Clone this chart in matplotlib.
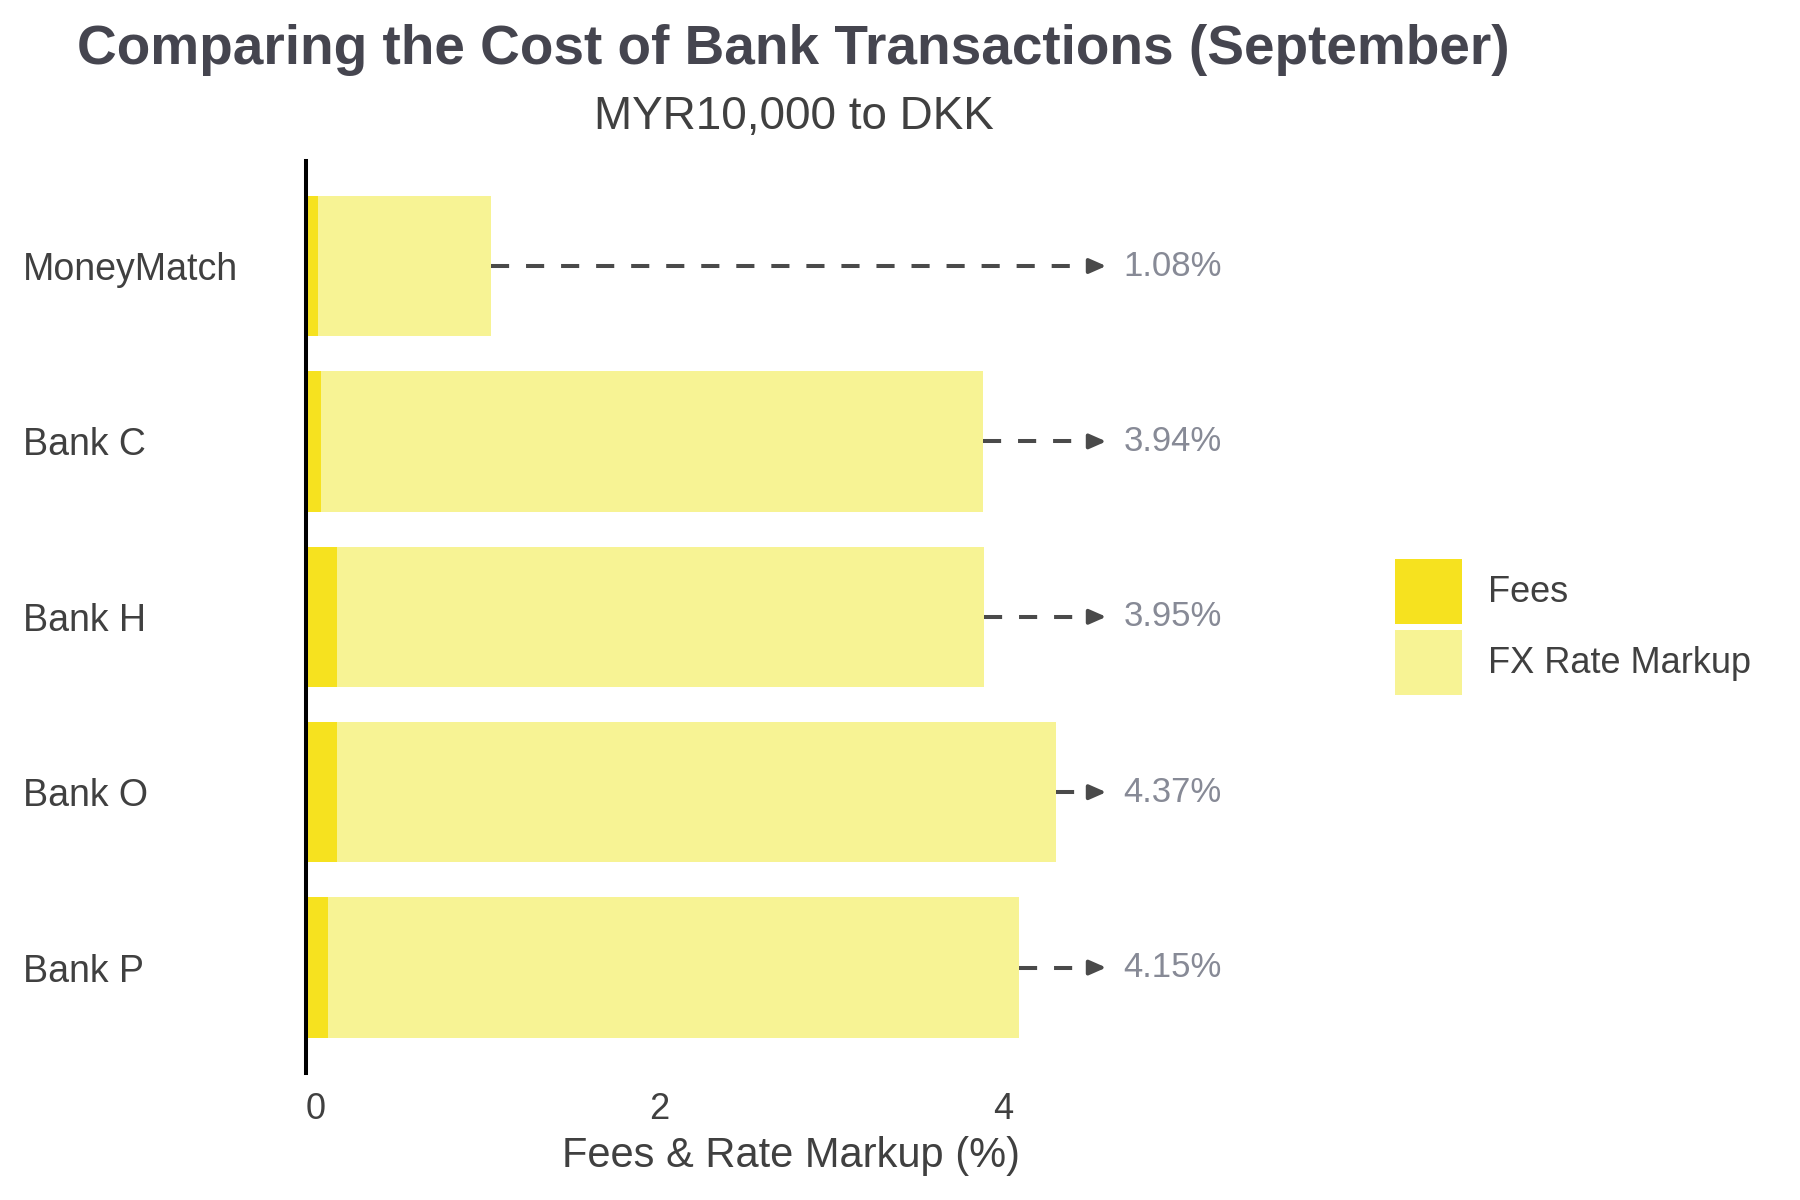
import matplotlib
matplotlib.use("Agg")
import matplotlib.pyplot as plt
import matplotlib.transforms as mtransforms
from matplotlib.patches import Patch

plt.rcParams['font.family'] = ['Liberation Sans', 'DejaVu Sans']

# data
providers = ["MoneyMatch", "Bank C", "Bank H", "Bank O", "Bank P"]
fees = [0.07, 0.09, 0.18, 0.18, 0.13]
totals = [1.08, 3.94, 3.95, 4.37, 4.15]
markups = [t - f for t, f in zip(totals, fees)]
total_labels = ["1.08%", "3.94%", "3.95%", "4.37%", "4.15%"]
x_ticks = [0, 2, 4]

FEE_COLOR = "#F6E21F"
MARKUP_COLOR = "#F7F394"
TEXT_COLOR = "#404040"
TITLE_COLOR = "#45454f"
NOTE_COLOR = "#878a96"
ARROW_COLOR = "#4a4a4a"
arrow_end = 4.66
label_x = 4.76

fig = plt.figure(figsize=(18, 12), dpi=100)
ax = fig.add_axes([0.170, 0.106, 0.539, 0.760])

ypos = list(range(len(providers)))
ax.barh(ypos, fees, height=0.8, color=FEE_COLOR, label="Fees", zorder=2)
ax.barh(ypos, markups, left=fees, height=0.8, color=MARKUP_COLOR,
        label="FX Rate Markup", zorder=2)

for y, tot, lab in zip(ypos, totals, total_labels):
    ax.plot([tot, arrow_end - 0.03], [y, y], color=ARROW_COLOR, lw=2.9,
            linestyle=(0, (4.5, 4.2)), solid_capstyle="butt",
            dash_capstyle="butt", zorder=3, clip_on=False)
    ax.annotate("", xy=(arrow_end, y), xytext=(arrow_end - 0.09, y),
                arrowprops=dict(arrowstyle="-|>,head_length=0.5,head_width=0.22",
                                color=ARROW_COLOR, lw=2.7, mutation_scale=20,
                                shrinkA=0, shrinkB=0),
                annotation_clip=False, zorder=3)
    ax.text(label_x, y, lab, ha="left", va="center", fontsize=25,
            color=NOTE_COLOR, clip_on=False)

ax.set_xlim(0, 5.65)
ax.set_ylim(4.6, -0.6)

ax.set_yticks(ypos)
ax.set_yticklabels(providers, fontsize=27, color=TEXT_COLOR)
ax.tick_params(axis="y", length=0, pad=204)
for t in ax.get_yticklabels():
    t.set_ha("left")

ax.set_xticks(x_ticks)
ax.set_xticklabels([str(v) for v in x_ticks], fontsize=26, color=TEXT_COLOR)
ax.tick_params(axis="x", length=0, pad=14)
shift = mtransforms.ScaledTranslation(0.10, 0, fig.dpi_scale_trans)
for t in ax.get_xticklabels():
    t.set_transform(t.get_transform() + shift)

ax.set_xlabel("Fees & Rate Markup (%)", fontsize=30, color=TEXT_COLOR, labelpad=6)

for s in ["top", "right", "bottom"]:
    ax.spines[s].set_visible(False)
ax.spines["left"].set_linewidth(2.9)
ax.spines["left"].set_color("black")
ax.grid(False)

fig.text(0.441, 1 - 50 / 1200, "Comparing the Cost of Bank Transactions (September)",
         ha="center", va="center", fontsize=39.6, fontweight="bold", color=TITLE_COLOR)
fig.text(0.441, 1 - 117 / 1200, "MYR10,000 to DKK",
         ha="center", va="center", fontsize=33, color=TEXT_COLOR)

handles = [Patch(facecolor=FEE_COLOR, edgecolor="none"),
           Patch(facecolor=MARKUP_COLOR, edgecolor="none")]
fig.legend(handles, ["Fees", "FX Rate Markup"], loc="upper left",
           bbox_to_anchor=(1395 / 1800, 1 - 559 / 1200),
           bbox_transform=fig.transFigure, frameon=False, fontsize=26,
           handlelength=1.86, handleheight=2.38, labelspacing=0.17,
           handletextpad=0.72, borderpad=0, borderaxespad=0,
           labelcolor=TEXT_COLOR)

fig.savefig("out.png", dpi=100)
